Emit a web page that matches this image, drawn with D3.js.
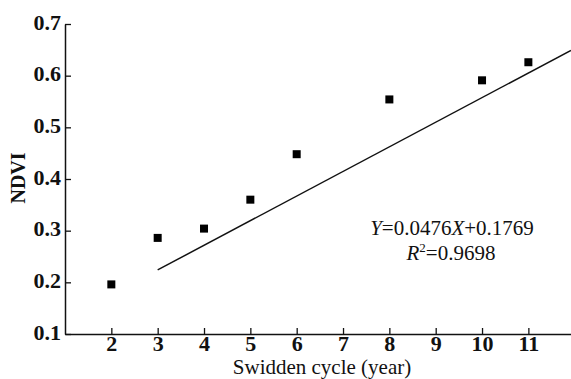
<!DOCTYPE html>
<html>
<head>
<meta charset="utf-8">
<script src="https://cdn.jsdelivr.net/npm/d3@7"></script>
<style>
  html, body { margin: 0; padding: 0; background: #fff; }
  svg { display: block; font-family: "Liberation Serif", "Times New Roman", serif; }
</style>
</head>
<body>
<svg id="chart" width="571" height="379"></svg>
<script>
/* NDVI vs swidden cycle – scatter + fitted line */

const cycleYears = [2, 3, 4, 5, 6, 8, 10, 11];
const ndviValues = [0.196, 0.286, 0.304, 0.360, 0.448, 0.554, 0.591, 0.626];

// fitted line as drawn in the figure (start / end)
const fitX = [3, 11.92];
const fitY = [0.224, 0.649];

const xTicks = [2, 3, 4, 5, 6, 7, 8, 9, 10, 11];
const yTicks = [0.1, 0.2, 0.3, 0.4, 0.5, 0.6, 0.7];

const margin = { top: 24, right: 0, bottom: 45, left: 65 };
const W = 571, H = 379;

const svg = d3.select("#chart");

const x = d3.scaleLinear().domain([1, 11.92]).range([margin.left, W - margin.right]);
const y = d3.scaleLinear().domain([0.1, 0.7]).range([H - margin.bottom, margin.top]);

const ink = "#111";

/* ---------- Axes ---------- */
const gx = svg.append("g")
  .attr("transform", `translate(0,${H - margin.bottom})`)
  .call(d3.axisBottom(x).tickValues(xTicks).tickSize(-6).tickSizeOuter(0).tickPadding(1)
    .tickFormat(d3.format("d")));

const gy = svg.append("g")
  .attr("transform", `translate(${margin.left},0)`)
  .call(d3.axisLeft(y).tickValues(yTicks).tickSize(-6).tickSizeOuter(0).tickPadding(4)
    .tickFormat(d3.format(".1f")));

[gx, gy].forEach(g => {
  g.select(".domain").attr("stroke", ink).attr("stroke-width", 1.5);
  g.selectAll(".tick line").attr("stroke", ink).attr("stroke-width", 1.3);
  g.selectAll(".tick text")
    .attr("fill", ink)
    .style("font-family", "'Liberation Serif', serif")
    .style("font-size", "22px")
    .style("font-weight", "bold");
});
gy.selectAll(".tick text").attr("dy", "0.24em");

/* ---------- Fitted line ---------- */
svg.append("path")
  .datum(fitX.map((v, i) => [v, fitY[i]]))
  .attr("fill", "none")
  .attr("stroke", ink)
  .attr("stroke-width", 1.5)
  .attr("d", d3.line().x(d => x(d[0])).y(d => y(d[1])));

/* ---------- Points ---------- */
const sq = 8;
svg.append("g")
  .selectAll("rect")
  .data(cycleYears.map((v, i) => ({ x: v, y: ndviValues[i] })))
  .join("rect")
  .attr("x", d => x(d.x) - sq / 2)
  .attr("y", d => y(d.y) - sq / 2)
  .attr("width", sq)
  .attr("height", sq)
  .attr("fill", "#000");

/* ---------- Labels ---------- */
svg.append("text")
  .attr("x", 322).attr("y", 374)
  .attr("text-anchor", "middle")
  .style("font-size", "21px")
  .attr("fill", ink)
  .text("Swidden cycle (year)");

svg.append("text")
  .attr("transform", `translate(25,178) rotate(-90)`)
  .attr("text-anchor", "middle")
  .style("font-size", "20px")
  .style("font-weight", "bold")
  .attr("fill", ink)
  .text("NDVI");

const eq = svg.append("text")
  .attr("x", 452).attr("y", 235)
  .attr("text-anchor", "middle")
  .style("font-size", "21px")
  .attr("fill", ink);
eq.append("tspan").style("font-style", "italic").text("Y");
eq.append("tspan").text("=0.0476");
eq.append("tspan").style("font-style", "italic").text("X");
eq.append("tspan").text("+0.1769");

const r2 = svg.append("text")
  .attr("x", 451).attr("y", 260)
  .attr("text-anchor", "middle")
  .style("font-size", "21px")
  .attr("fill", ink);
r2.append("tspan").style("font-style", "italic").text("R");
r2.append("tspan").attr("dy", -8).style("font-size", "13px").text("2");
r2.append("tspan").attr("dy", 8).text("=0.9698");
</script>
</body>
</html>
